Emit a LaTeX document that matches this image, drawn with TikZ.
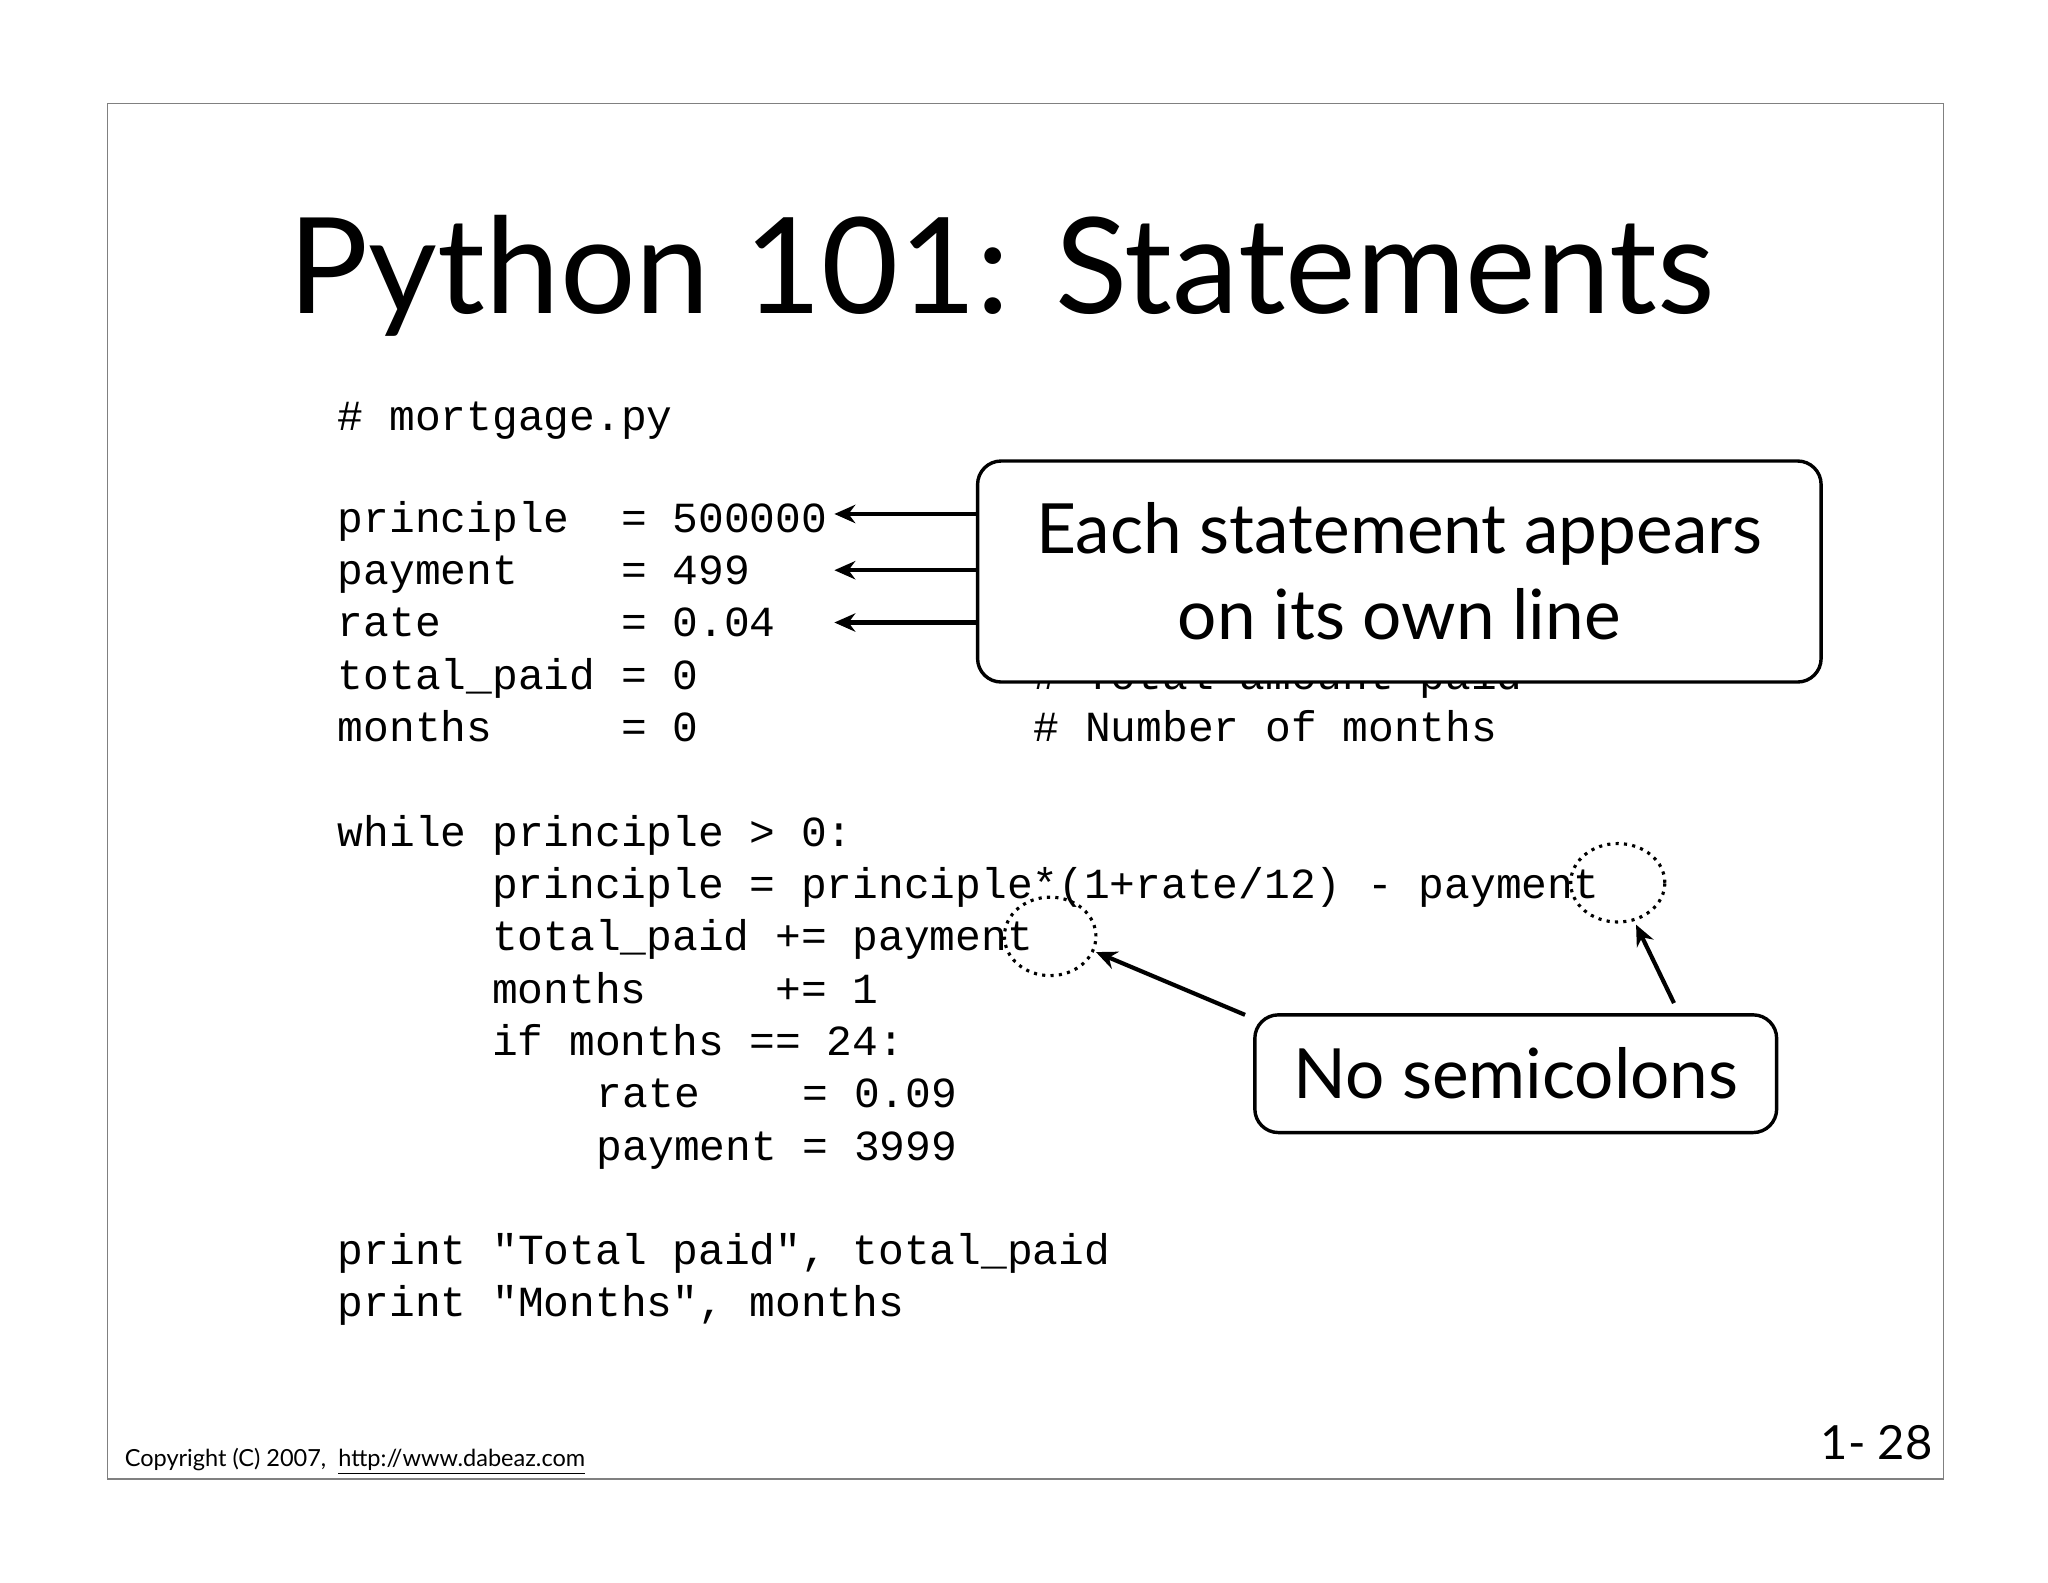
\documentclass[tikz,border=0pt]{standalone}
\usepackage{fontspec}
\setmainfont{Lato}
\newfontfamily\codefont{Liberation Mono}
\usetikzlibrary{arrows.meta,shapes.geometric}
\begin{document}
\begin{tikzpicture}[x=0.5pt,y=-0.5pt,
  code/.style={anchor=base west,inner sep=0,font=\codefont\fontsize{16.4}{20}\selectfont},
  callout/.style={draw,line width=1.3pt,rounded corners=9pt,fill=white,align=center,font=\fontsize{26.5}{33}\selectfont},
  arr/.style={-{Stealth[length=8pt,width=7pt]},line width=1.6pt},
  dot/.style={draw,dotted,line width=1.2pt}]
\useasboundingbox (0,0) rectangle (1566,1210);
\fill[white] (0,0) rectangle (1566,1210);
\draw[gray,line width=0.5pt] (82,79) rectangle (1486,1131);
\node[anchor=base,inner sep=0,font=\fontsize{51}{60}\selectfont] (title) at (766,240) {Python 101: Statements};
\node[code] (l0) at (258,329) {\# mortgage.py};
\node[code] (l1) at (258,407) {principle\ \ = 500000};
\node[code] (l2) at (258,447) {payment\ \ \ \ = 499};
\node[code] (l3) at (258,487) {rate\ \ \ \ \ \ \ = 0.04};
\node[code] (l4) at (258,527) {total\_paid = 0};
\node[code] (l5) at (258,567) {months\ \ \ \ \ = 0};
\node[code] (c1) at (790,407) {\# Initial principal};
\node[code] (c2) at (790,447) {\# Monthly payment};
\node[code] (c3) at (790,487) {\# Interest rate};
\node[code] (c4) at (790,527) {\# Total amount paid};
\node[code] (c5) at (790,567) {\# Number of months};
\node[code] (w0) at (258,647) {while principle > 0:};
\node[code] (w1) at (376,687) {principle = principle*(1+rate/12) - payment};
\node[code] (w2) at (376,727) {total\_paid += payment};
\node[code] (w3) at (376,767) {months\ \ \ \ \ += 1};
\node[code] (w4) at (376,807) {if months == 24:};
\node[code] (w5) at (456,847) {rate\ \ \ \ = 0.09};
\node[code] (w6) at (456,887) {payment = 3999};
\node[code] (p1) at (258,967) {print "Total paid", total\_paid};
\node[code] (p2) at (258,1007) {print "Months", months};
\node[callout,minimum width=645*0.5pt,minimum height=169*0.5pt] (box1) at (1070,437) {Each statement appears\\on its own line};
\coordinate (a1) at (638,393); \coordinate (a2) at (638,436); \coordinate (a3) at (638,476);
\draw[arr] (box1.west|-a1) -- (a1);
\draw[arr] (box1.west|-a2) -- (a2);
\draw[arr] (box1.west|-a3) -- (a3);
\node[callout,minimum width=399*0.5pt,minimum height=90*0.5pt] (box2) at (1159,821) {No semicolons};
\node[dot,ellipse,minimum width=70*0.5pt,minimum height=60*0.5pt,inner sep=0] (e1) at (803,716) {};
\node[dot,ellipse,minimum width=72*0.5pt,minimum height=60*0.5pt,inner sep=0] (e2) at (1237,675) {};
\coordinate (s1) at (952,776); \coordinate (s2) at (1280,767);
\draw[arr] (s1) -- (838,728);
\draw[arr] (s2) -- (1251,707);
\node[anchor=base west,inner sep=0,font=\fontsize{9}{10}\selectfont] (copy) at (95,1121) {Copyright (C) 2007,\ \ \underline{http://www.dabeaz.com}};
\node[anchor=base east,inner sep=0,font=\fontsize{18}{20}\selectfont] (num) at (1478,1116) {1- 28};
\end{tikzpicture}
\end{document}
